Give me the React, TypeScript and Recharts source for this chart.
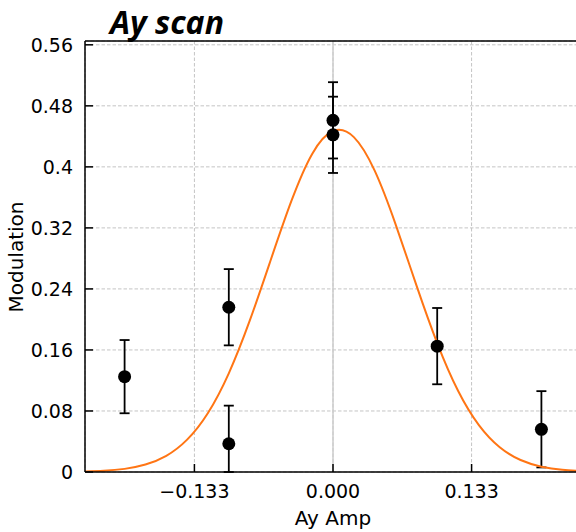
import React from 'react';
import {
  ComposedChart, Line, Scatter, ErrorBar, XAxis, YAxis, CartesianGrid, ReferenceLine,
} from 'recharts';

// measured points (Ay amplitude vs modulation) with y error [below, above]
const ptX = [-0.2, -0.1, -0.1, 0, 0, 0.1, 0.2];
const ptY = [0.125, 0.216, 0.037, 0.461, 0.442, 0.165, 0.056];
const ptErrLow = [0.048, 0.05, 0.037, 0.05, 0.05, 0.05, 0.05];
const ptErrHigh = [0.048, 0.05, 0.05, 0.05, 0.05, 0.05, 0.05];

// gaussian fit curve
const fitX = [
  -0.24, -0.22, -0.2, -0.18, -0.16, -0.14, -0.12, -0.1, -0.08, -0.06, -0.04, -0.02, 0,
  0.02, 0.04, 0.06, 0.08, 0.1, 0.12, 0.14, 0.16, 0.18, 0.2, 0.22, 0.24,
];
const fitY = [
  0.0006, 0.0016, 0.0041, 0.0098, 0.0212, 0.0424, 0.0774, 0.1294, 0.198, 0.277, 0.355, 0.417, 0.447,
  0.439, 0.395, 0.325, 0.245, 0.169, 0.1065, 0.0615, 0.0325, 0.0157, 0.007, 0.0028, 0.001,
];

const xTicks = [-0.133, 0, 0.133];
const yTicks = [0, 0.08, 0.16, 0.24, 0.32, 0.4, 0.48, 0.56];

const points = ptX.map((x, i) => ({ x, y: ptY[i], err: [ptErrLow[i], ptErrHigh[i]] }));
const fit = fitX.map((x, i) => ({ x, y: fitY[i] }));

const FONT = "'DejaVu Sans', sans-serif";

const YTick = ({ x, y, payload }: any) => (
  <g>
    <line x1={x} x2={x + 8} y1={y} y2={y} stroke="#000" strokeWidth={1.5} />
    <text x={x - 12} y={y} textAnchor="end" dominantBaseline="central"
      fontFamily={FONT} fontSize={19} fill="#000">
      {String(payload.value)}
    </text>
  </g>
);

const XTick = ({ x, y, payload }: any) => (
  <g>
    <line x1={x} x2={x} y1={y} y2={y - 8} stroke="#000" strokeWidth={1.5} />
    <text x={x} y={y + 19} textAnchor="middle" dominantBaseline="central"
      fontFamily={FONT} fontSize={19} fill="#000">
      {payload.value.toFixed(3).replace('-', '\u2212')}
    </text>
  </g>
);

const Dot = ({ cx, cy }: any) => <circle cx={cx} cy={cy} r={6.5} fill="#000" />;

export default function App() {
  return (
    <div style={{ position: 'absolute', left: 0, top: 0, width: 576, height: 532, overflow: 'hidden', background: '#fff' }}>
      <ComposedChart width={582} height={532} margin={{ top: 41, right: 1, left: 0, bottom: 0 }}>
        <CartesianGrid stroke="#c4c4c4" strokeDasharray="3.5 2" strokeWidth={1} />
        <ReferenceLine x={0} stroke="#cccccc" strokeWidth={1.5} />
        <ReferenceLine y={0.565} stroke="#000" strokeWidth={1.5} />
        <XAxis
          dataKey="x"
          type="number"
          domain={[-0.238, 0.238]}
          ticks={xTicks}
          allowDataOverflow
          axisLine={{ stroke: '#000', strokeWidth: 1.5 }}
          tickLine={false}
          tickSize={0}
          tickMargin={0}
          tick={<XTick />}
          height={60}
        />
        <YAxis
          type="number"
          domain={[0, 0.565]}
          ticks={yTicks}
          allowDataOverflow
          axisLine={{ stroke: '#000', strokeWidth: 1.5 }}
          tickLine={false}
          tickSize={0}
          tickMargin={0}
          tick={<YTick />}
          width={85}
        />
        <Scatter data={points} dataKey="y" fill="#000" shape={<Dot />} isAnimationActive={false}>
          <ErrorBar dataKey="err" direction="y" width={5} stroke="#000" strokeWidth={1.8} isAnimationActive={false} />
        </Scatter>
        <Line
          data={fit}
          dataKey="y"
          type="natural"
          stroke="#ff7514"
          strokeWidth={2}
          dot={false}
          activeDot={false}
          isAnimationActive={false}
        />
      </ComposedChart>
      <svg width={576} height={532} style={{ position: 'absolute', left: 0, top: 0, pointerEvents: 'none' }}>
        <text x={110} y={21} dominantBaseline="central" fontFamily="'Open Sans', sans-serif"
          fontWeight="bold" fontStyle="italic" fontSize={32} fill="#000">Ay scan</text>
        <text x={16} y={257} transform="rotate(-90 16 257)" textAnchor="middle" dominantBaseline="central"
          fontFamily={FONT} fontSize={20} fill="#000">Modulation</text>
        <text x={333} y={518} textAnchor="middle" dominantBaseline="central"
          fontFamily={FONT} fontSize={20} fill="#000">Ay Amp</text>
      </svg>
    </div>
  );
}
